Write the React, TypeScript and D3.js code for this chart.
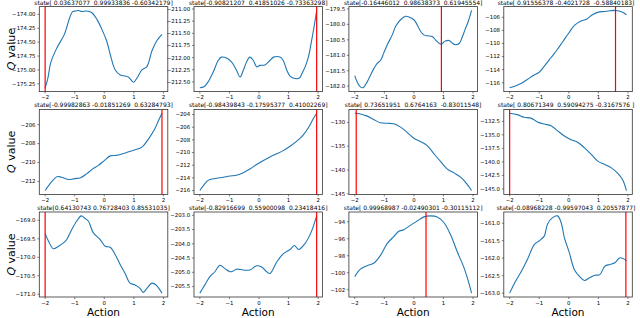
import React from "react";
import * as d3 from "d3";

// ---------- data ----------
const q00 = [[-2,-175.32],[-1.92,-175.18],[-1.8,-174.85],[-1.6,-174.6],[-1.35,-174.36],[-1.17,-174.06],[-1.07,-173.95],[-0.97,-173.94],[-0.87,-173.93],[-0.76,-173.95],[-0.6,-173.94],[-0.42,-173.97],[-0.25,-174.09],[-0.08,-174.27],[0.08,-174.48],[0.25,-174.82],[0.37,-175.0],[0.54,-175.09],[0.7,-175.11],[0.82,-175.13],[0.99,-175.22],[1.1,-175.15],[1.27,-175.0],[1.44,-174.94],[1.61,-174.66],[1.77,-174.48],[1.95,-174.36]];
const q01 = [[-2,-212.62],[-1.86,-212.6],[-1.72,-212.5],[-1.55,-212.3],[-1.38,-212.06],[-1.27,-211.99],[-1.1,-212.01],[-0.93,-212.09],[-0.76,-212.26],[-0.64,-212.4],[-0.53,-212.26],[-0.42,-212.09],[-0.31,-211.99],[-0.19,-212.06],[-0.08,-212.19],[0.03,-212.16],[0.2,-212.15],[0.37,-212.06],[0.49,-211.99],[0.71,-211.99],[0.82,-212.06],[0.94,-212.26],[1.05,-212.38],[1.22,-212.43],[1.37,-212.42],[1.45,-212.33],[1.56,-212.19],[1.67,-211.99],[1.77,-211.68],[1.87,-211.34],[1.95,-211.03]];
const q02 = [[-2,-181.66],[-1.92,-181.86],[-1.81,-182.02],[-1.72,-182.05],[-1.58,-181.86],[-1.41,-181.53],[-1.24,-181.26],[-1.13,-181.17],[-1.02,-180.93],[-0.9,-180.66],[-0.73,-180.34],[-0.62,-180.07],[-0.45,-179.85],[-0.28,-179.74],[-0.17,-179.76],[0.0,-179.85],[0.11,-180.01],[0.23,-180.23],[0.34,-180.34],[0.45,-180.37],[0.62,-180.39],[0.73,-180.5],[0.85,-180.61],[0.93,-180.64],[1.04,-180.55],[1.19,-180.52],[1.3,-180.61],[1.41,-180.66],[1.54,-180.61],[1.62,-180.45],[1.73,-180.17],[1.84,-179.9],[1.95,-179.55]];
const q03 = [[-2,-116.77],[-1.8,-116.5],[-1.6,-116.1],[-1.4,-115.5],[-1.2,-114.9],[-1.0,-114.4],[-0.8,-113.3],[-0.6,-112.15],[-0.4,-111.0],[-0.2,-109.7],[0.0,-108.4],[0.2,-107.2],[0.4,-106.6],[0.6,-106.3],[0.8,-105.6],[1.0,-105.2],[1.2,-105.1],[1.4,-105.0],[1.6,-104.95],[1.8,-105.2],[1.95,-105.6]];
const q10 = [[-2,-212.96],[-1.85,-212.3],[-1.6,-211.5],[-1.45,-211.55],[-1.2,-211.8],[-1.0,-211.7],[-0.8,-211.6],[-0.6,-211.2],[-0.4,-210.7],[-0.2,-210.3],[0.0,-209.8],[0.2,-209.3],[0.4,-209.25],[0.6,-209.1],[0.8,-208.9],[1.0,-208.7],[1.2,-208.5],[1.3,-208.3],[1.5,-207.5],[1.7,-206.5],[1.83,-205.6],[1.95,-204.8]];
const q11 = [[-2,-216.0],[-1.86,-215.1],[-1.72,-214.4],[-1.49,-214.1],[-1.21,-213.9],[-0.98,-213.7],[-0.76,-213.6],[-0.53,-213.2],[-0.31,-212.6],[-0.08,-211.9],[0.15,-211.25],[0.37,-210.7],[0.6,-210.2],[0.82,-209.7],[1.05,-209.0],[1.28,-208.2],[1.5,-207.2],[1.67,-206.1],[1.82,-204.8],[1.95,-203.8]];
const q12 = [[-2,-128.1],[-1.81,-128.25],[-1.58,-128.7],[-1.36,-129.4],[-1.13,-130.1],[-0.9,-130.2],[-0.68,-130.3],[-0.45,-131.0],[-0.23,-132.1],[0.0,-133.35],[0.23,-134.05],[0.45,-134.9],[0.68,-136.6],[0.9,-138.2],[1.13,-139.8],[1.36,-140.6],[1.58,-141.5],[1.79,-142.9],[1.95,-144.3]];
const q13 = [[-2,-131.0],[-1.74,-131.25],[-1.51,-131.75],[-1.28,-131.9],[-1.06,-132.6],[-0.83,-133.0],[-0.6,-133.3],[-0.38,-134.25],[-0.15,-135.2],[0.08,-135.9],[0.31,-136.4],[0.53,-137.4],[0.76,-138.6],[0.99,-139.9],[1.22,-140.5],[1.44,-141.1],[1.65,-142.1],[1.82,-143.3],[1.95,-145.3]];
const q20 = [[-2,-169.36],[-1.89,-169.56],[-1.72,-169.77],[-1.55,-169.7],[-1.38,-169.61],[-1.27,-169.52],[-1.1,-169.25],[-0.93,-169.02],[-0.78,-168.88],[-0.65,-168.95],[-0.54,-169.02],[-0.37,-169.34],[-0.14,-169.52],[0.03,-169.7],[0.2,-169.73],[0.37,-169.93],[0.54,-170.2],[0.7,-170.43],[0.87,-170.7],[1.04,-170.75],[1.21,-170.84],[1.32,-170.95],[1.44,-170.84],[1.61,-170.7],[1.75,-170.75],[1.95,-170.97]];
const q21 = [[-2,-205.73],[-1.83,-205.44],[-1.66,-205.15],[-1.49,-204.98],[-1.32,-204.75],[-1.15,-204.87],[-0.98,-204.98],[-0.87,-204.95],[-0.76,-204.89],[-0.53,-204.92],[-0.31,-204.92],[-0.08,-204.77],[0.09,-204.81],[0.26,-204.98],[0.37,-205.04],[0.6,-204.64],[0.82,-204.35],[1.05,-204.2],[1.2,-204.06],[1.34,-204.2],[1.55,-204.0],[1.76,-203.6],[1.95,-203.02]];
const q22 = [[-2,-100.46],[-1.81,-99.58],[-1.58,-99.17],[-1.36,-98.89],[-1.13,-97.96],[-0.9,-96.55],[-0.68,-95.74],[-0.51,-95.13],[-0.34,-94.93],[-0.11,-94.4],[0.11,-93.92],[0.34,-93.43],[0.56,-93.31],[0.79,-93.43],[1.02,-94.12],[1.24,-95.54],[1.47,-97.56],[1.69,-99.37],[1.84,-100.99],[1.95,-102.4]];
const q23 = [[-2,-163.0],[-1.8,-162.66],[-1.63,-162.42],[-1.4,-162.04],[-1.17,-161.61],[-1.06,-161.54],[-0.94,-161.46],[-0.83,-161.37],[-0.72,-161.03],[-0.55,-160.84],[-0.38,-160.79],[-0.26,-160.98],[-0.15,-161.41],[0.02,-161.85],[0.19,-162.33],[0.36,-162.52],[0.53,-162.64],[0.7,-162.56],[0.88,-162.49],[1.05,-162.47],[1.22,-162.23],[1.39,-162.18],[1.56,-162.13],[1.73,-161.99],[1.95,-162.07]];

const titles = [
  "state[ 0.03637077  0.99933836 -0.60342179]",
  "state[-0.90821207  0.41851026 -0.73363298]",
  "state[-0.16446012  0.98638373  0.61945554]",
  "state[ 0.91556378 -0.4021728  -0.58840183]",
  "state[-0.99982863 -0.01851269  0.63284793]",
  "state[-0.98439843 -0.17595377  0.41002269]",
  "state[ 0.73651951  0.6764163  -0.83011548]",
  "state[ 0.80671349  0.59094275 -0.3167576 ]",
  "state[0.64130743 0.76728403 0.85531035]",
  "state[-0.82916699  0.55900098  0.23418416]",
  "state[ 0.99968987 -0.02490301 -0.30115112]",
  "state[-0.08968228 -0.99597043  0.20557877]",
];

const bestActions = [-2, 1.95, 0.93, 1.58, 1.95, 1.95, -1.95, -2, -2, 1.95, 0.41, 1.93];

const yTicks = [
  [-174.0, -174.25, -174.5, -174.75, -175.0, -175.25],
  [-211.0, -211.25, -211.5, -211.75, -212.0, -212.25, -212.5],
  [-179.5, -180.0, -180.5, -181.0, -181.5, -182.0],
  [-106, -108, -110, -112, -114, -116],
  [-206, -208, -210, -212],
  [-204, -206, -208, -210, -212, -214, -216],
  [-130, -135, -140, -145],
  [-132.5, -135.0, -137.5, -140.0, -142.5, -145.0],
  [-169.0, -169.5, -170.0, -170.5, -171.0],
  [-203.0, -203.5, -204.0, -204.5, -205.0, -205.5],
  [-94, -96, -98, -100, -102],
  [-161.0, -161.5, -162.0, -162.5, -163.0],
];
const yDecimals = [2, 2, 1, 0, 0, 0, 0, 1, 1, 1, 0, 1];
const xTicks = [-2, -1, 0, 1, 2];

const series = [q00, q01, q02, q03, q10, q11, q12, q13, q20, q21, q22, q23];

// ---------- layout ----------
const W = 640, H = 318;
const colLeft = [39.3, 194.0, 348.9, 503.8];
const rowTop = [6.6, 109.4, 212.0];
const axW = 128.5, axH = 85;
const FONT = "DejaVu Sans, sans-serif";

const fmt = (v: number, d: number) => (v < 0 ? "\u2212" : "") + Math.abs(v).toFixed(d);

function Panel({ idx }: { idx: number }) {
  const r = Math.floor(idx / 4), c = idx % 4;
  const left = colLeft[c], top = rowTop[r];
  const data = series[idx] as number[][];
  const xs = data.map((d) => d[0]);
  const ys = data.map((d) => d[1]);
  const xmin = d3.min(xs)!, xmax = d3.max(xs)!;
  const xpad = (xmax - xmin) * 0.05;
  const ymin = d3.min(ys)!, ymax = d3.max(ys)!;
  const pad = (ymax - ymin) * 0.05;
  const x = d3.scaleLinear().domain([xmin - xpad, xmax + xpad]).range([left, left + axW]);
  const y = d3.scaleLinear().domain([ymin - pad, ymax + pad]).range([top + axH, top]);
  const line = d3.line<number[]>().x((d) => x(d[0])).y((d) => y(d[1])).curve(d3.curveCatmullRom.alpha(0.5));
  const bottom = top + axH;
  const titleX = c === 3 ? left + axW / 2 - 2 : left + axW / 2;
  const titleY = r === 0 ? top - 1.4 : top - 2.4;
  return (
    <g>
      <path d={line(data) || ""} fill="none" stroke="#1f77b4" strokeWidth={1.1} />
      <line x1={x(bestActions[idx])} x2={x(bestActions[idx])} y1={top} y2={bottom} stroke="red" strokeWidth={1.2} />
      <rect x={left} y={top} width={axW} height={axH} fill="none" stroke="#333" strokeWidth={0.8} />
      {xTicks.map((t) => (
        <g key={"x" + t}>
          <line x1={x(t)} x2={x(t)} y1={bottom} y2={bottom + 2} stroke="#333" strokeWidth={0.6} />
          <text x={x(t)} y={bottom + 7.6} fontSize={5.4} textAnchor="middle" fontFamily={FONT} fill="#000">
            {fmt(t, 0)}
          </text>
        </g>
      ))}
      {yTicks[idx].map((t) => (
        <g key={"y" + t}>
          <line x1={left - 2} x2={left} y1={y(t)} y2={y(t)} stroke="#333" strokeWidth={0.6} />
          <text x={left - 3.8} y={y(t) + 1.9} fontSize={5.4} textAnchor="end" fontFamily={FONT} fill="#000">
            {fmt(t, yDecimals[idx])}
          </text>
        </g>
      ))}
      <text x={titleX} y={titleY} fontSize={6.0} textAnchor="middle" fontFamily={FONT} fill="#000" xmlSpace="preserve" style={{ whiteSpace: "pre" }}>
        {titles[idx]}
      </text>
    </g>
  );
}

export default function App() {
  return (
    <svg width={W} height={H} style={{ position: "absolute", left: 0, top: 0, background: "#fff" }}>
      <rect x={0} y={0} width={W} height={H} fill="#fff" />
      {series.map((_, i) => (
        <Panel key={i} idx={i} />
      ))}
      {rowTop.map((t, r) => (
        <text key={"q" + r} transform={`translate(15.3,${t + axH / 2}) rotate(-90)`} fontSize={11} textAnchor="middle" fontFamily={FONT} fill="#000">
          <tspan fontStyle="italic">Q</tspan> value
        </text>
      ))}
      {colLeft.map((l, c) => (
        <text key={"a" + c} x={l + axW / 2} y={315.8} fontSize={10.5} textAnchor="middle" fontFamily={FONT} fill="#000">
          Action
        </text>
      ))}
    </svg>
  );
}
